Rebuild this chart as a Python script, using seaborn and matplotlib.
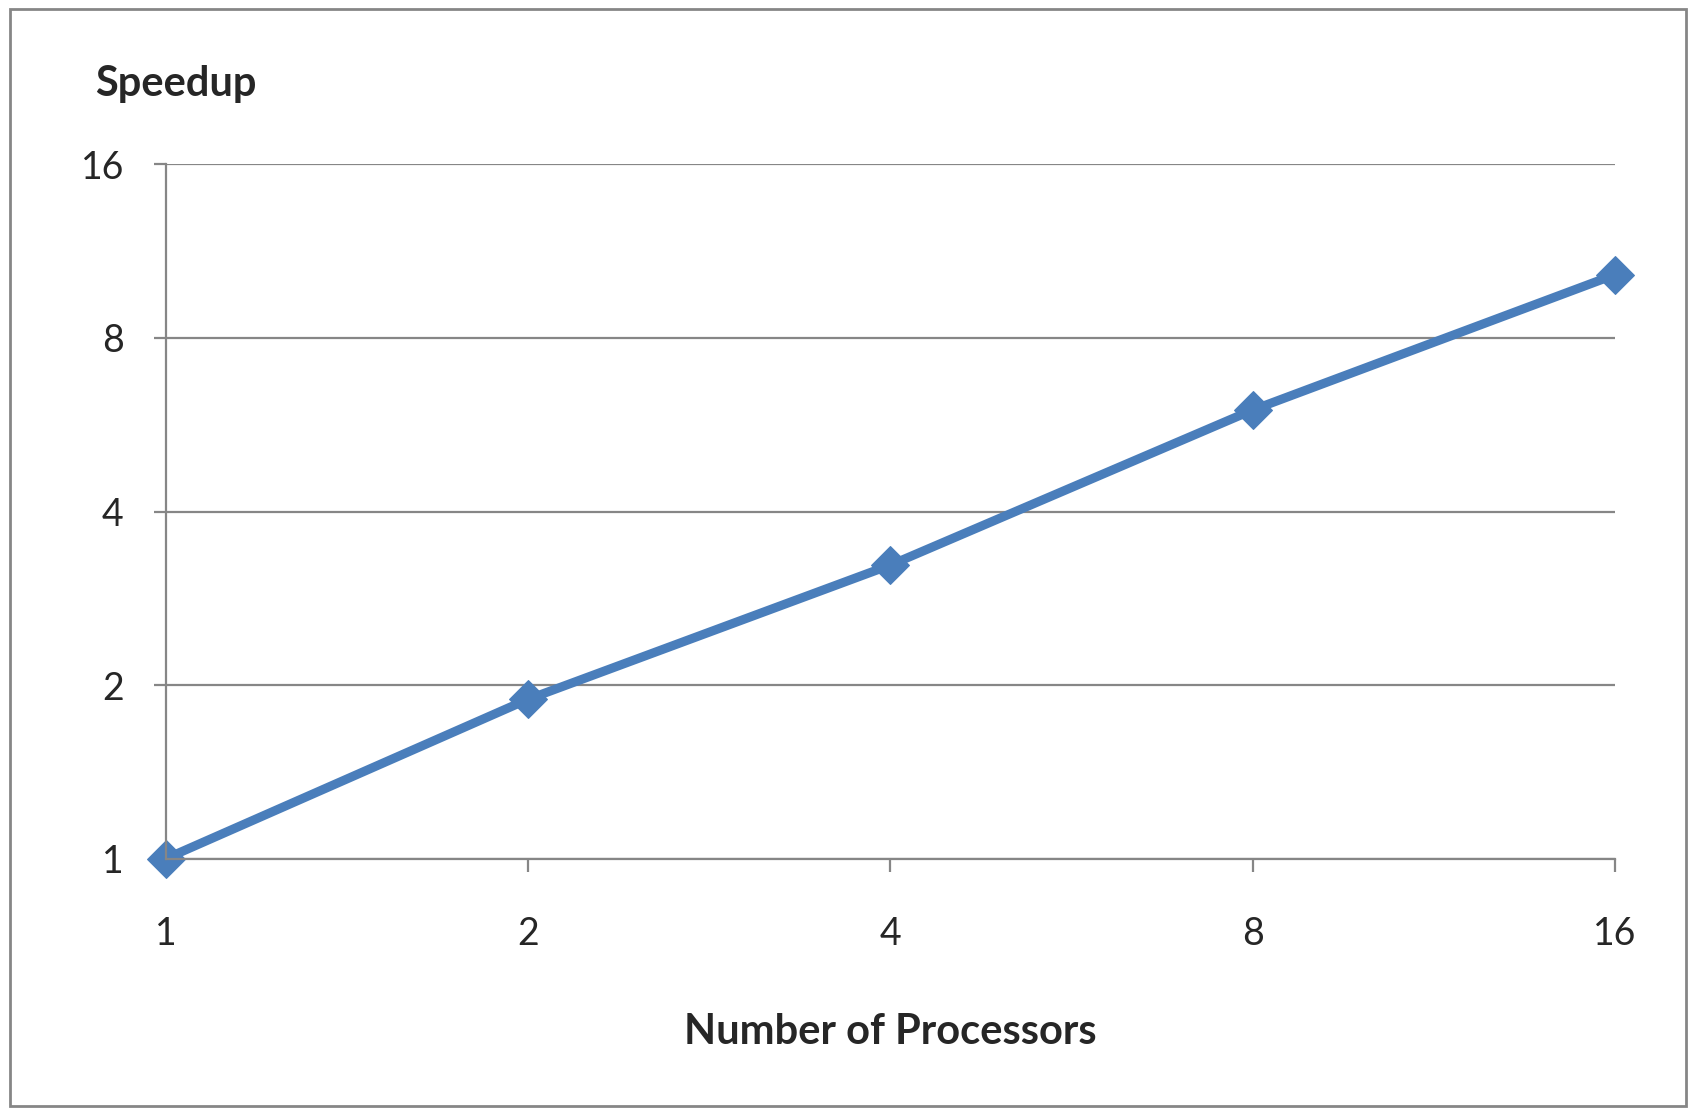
import matplotlib
matplotlib.use("Agg")
import matplotlib.pyplot as plt
import seaborn as sns
from matplotlib.patches import Rectangle
from matplotlib.ticker import FixedLocator, NullLocator

# values
processors = [1, 2, 4, 8, 16]
speedup = [1.0, 1.89, 3.23, 6.0, 10.3]
x_ticks = [1, 2, 4, 8, 16]
y_ticks = [1, 2, 4, 8, 16]

sns.set_style("white")
plt.rcParams['font.family'] = ['Lato', 'DejaVu Sans']

fig = plt.figure(figsize=(16.96, 11.15), dpi=100)
ax = fig.add_axes([0.0976, 0.2298, 0.8546, 0.6228])

sns.lineplot(x=processors, y=speedup, ax=ax, color='#4A7EBB', linewidth=6.5,
             marker='D', markersize=19, markeredgecolor='#4A7EBB', clip_on=False)

ax.set_xscale('log', base=2)
ax.set_yscale('log', base=2)
ax.set_xlim(1, 16)
ax.set_ylim(1, 16)
ax.xaxis.set_major_locator(FixedLocator(x_ticks))
ax.yaxis.set_major_locator(FixedLocator(y_ticks))
ax.xaxis.set_minor_locator(NullLocator())
ax.yaxis.set_minor_locator(NullLocator())
ax.set_xticklabels([str(t) for t in x_ticks])
ax.set_yticklabels([str(t) for t in y_ticks])

grey = '#868686'
ax.yaxis.grid(True, color=grey, linewidth=1.6)
ax.xaxis.grid(False)
for s in ['top', 'right']:
    ax.spines[s].set_visible(False)
for s in ['left', 'bottom']:
    ax.spines[s].set_color(grey)
    ax.spines[s].set_linewidth(1.6)

ax.tick_params(axis='y', which='major', direction='out', length=9, width=1.6,
               color=grey, labelsize=27, pad=21, left=True)
ax.tick_params(axis='x', which='major', direction='out', length=9, width=1.6,
               color=grey, labelsize=27, pad=32, bottom=True)

ax.set_xlabel('Number of Processors', fontsize=30, fontweight='bold', va='center')
ax.xaxis.set_label_coords(0.5, -0.25)
ax.set_ylabel('')
fig.text(0.056, 0.925, 'Speedup', fontsize=30, fontweight='bold', va='center', ha='left')

fig.patches.append(Rectangle((0.006, 0.008), 0.988, 0.984, transform=fig.transFigure,
                             fill=False, edgecolor=grey, linewidth=2))

fig.savefig('out.png', dpi=100)
